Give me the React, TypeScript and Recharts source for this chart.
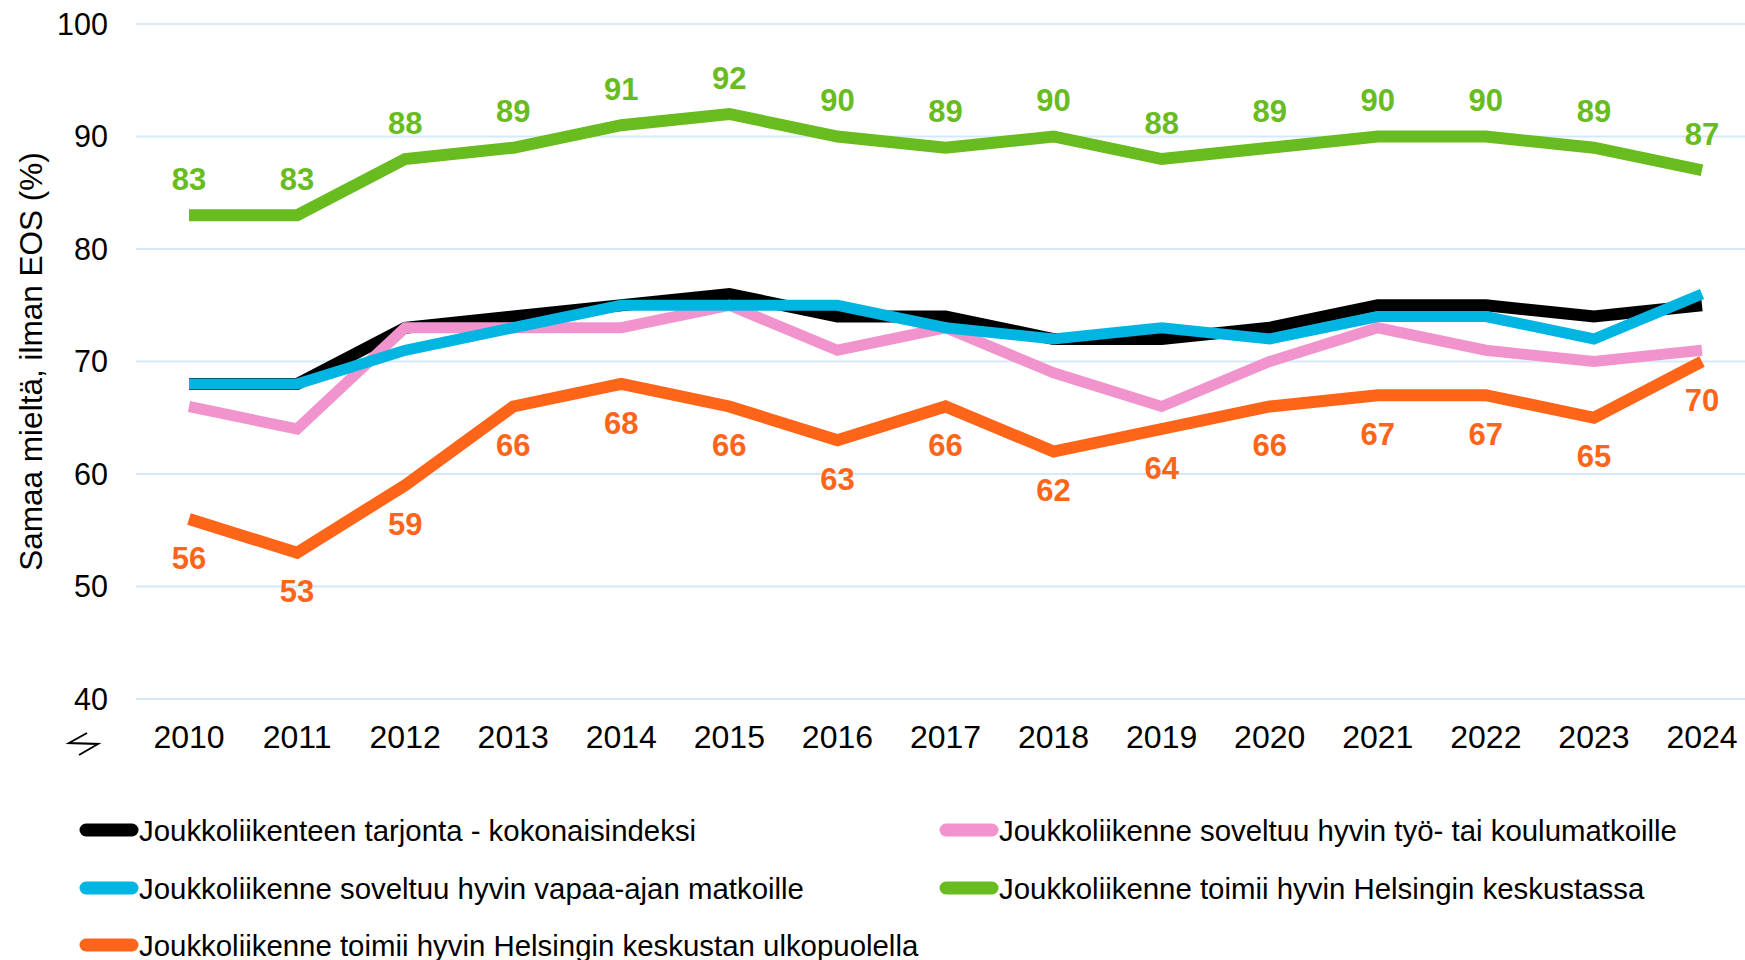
import { LineChart, Line, XAxis, YAxis, CartesianGrid } from 'recharts'

const years = ['2010', '2011', '2012', '2013', '2014', '2015', '2016', '2017', '2018', '2019', '2020', '2021', '2022', '2023', '2024']
const kokonais = [68, 68, 73, 74, 75, 76, 74, 74, 72, 72, 73, 75, 75, 74, 75]
const tyoKoulu = [66, 64, 73, 73, 73, 75, 71, 73, 69, 66, 70, 73, 71, 70, 71]
const vapaaAika = [68, 68, 71, 73, 75, 75, 75, 73, 72, 73, 72, 74, 74, 72, 76]
const keskusta = [83, 83, 88, 89, 91, 92, 90, 89, 90, 88, 89, 90, 90, 89, 87]
const ulkopuoli = [56, 53, 59, 66, 68, 66, 63, 66, 62, 64, 66, 67, 67, 65, 70]
const yTicks = [40, 50, 60, 70, 80, 90, 100]

const data = years.map((year, i) => ({
  year,
  kokonais: kokonais[i],
  tyoKoulu: tyoKoulu[i],
  vapaaAika: vapaaAika[i],
  keskusta: keskusta[i],
  ulkopuoli: ulkopuoli[i],
}))

const FONT = '"Liberation Sans", Arial, sans-serif'
const GREEN = '#68bc1f'
const ORANGE = '#ff6519'
const BLUE = '#00b5e2'
const PINK = '#f194cd'

const legend = [
  { name: 'Joukkoliikenteen tarjonta - kokonaisindeksi', color: '#000', x: 80, y: 830 },
  { name: 'Joukkoliikenne soveltuu hyvin työ- tai koulumatkoille', color: PINK, x: 940, y: 830 },
  { name: 'Joukkoliikenne soveltuu hyvin vapaa-ajan matkoille', color: BLUE, x: 80, y: 888 },
  { name: 'Joukkoliikenne toimii hyvin Helsingin keskustassa', color: GREEN, x: 940, y: 888 },
  { name: 'Joukkoliikenne toimii hyvin Helsingin keskustan ulkopuolella', color: ORANGE, x: 80, y: 945 },
]

const makeLabel = (color: string, dy: number) => (props: any) => {
  const { x, y, value, index } = props
  return (
    <text
      key={index}
      x={x}
      y={y + dy}
      textAnchor="middle"
      dominantBaseline="central"
      fill={color}
      fontSize={31}
      fontWeight="bold"
      fontFamily={FONT}
    >
      {value}
    </text>
  )
}

export default function App() {
  return (
    <div style={{ position: 'absolute', left: 0, top: 0, width: 1745, height: 960, background: '#fff', fontFamily: FONT }}>
      <LineChart
        width={1745}
        height={960}
        data={data}
        margin={{ top: 24, right: 0, left: 0, bottom: 201 }}
      >
        <CartesianGrid vertical={false} stroke="#d5e9f8" strokeWidth={2} />
        <XAxis
          dataKey="year"
          axisLine={false}
          tickLine={false}
          height={60}
          padding={{ left: 53, right: 43 }}
          tickMargin={20}
          interval={0}
          tick={{ fill: '#000', fontSize: 32, fontFamily: FONT }}
        />
        <YAxis
          domain={[40, 100]}
          ticks={yTicks}
          width={136}
          axisLine={false}
          tickLine={false}
          tickMargin={22}
          tick={{ fill: '#000', fontSize: 30.5, fontFamily: FONT }}
          label={{
            content: (p: any) => {
              const vb = p.viewBox || { y: 24, height: 675 }
              const cy = vb.y + vb.height / 2
              return (
                <text
                  x={31}
                  y={cy}
                  transform={`rotate(-90 31 ${cy})`}
                  textAnchor="middle"
                  dominantBaseline="central"
                  fontSize={31.5}
                  fontFamily={FONT}
                  fill="#000"
                >
                  Samaa mieltä, ilman EOS (%)
                </text>
              )
            },
          }}
        />
        <Line dataKey="kokonais" stroke="#000" strokeWidth={12} dot={false} strokeLinejoin="miter" isAnimationActive={false} />
        <Line dataKey="tyoKoulu" stroke={PINK} strokeWidth={11} dot={false} isAnimationActive={false} />
        <Line dataKey="vapaaAika" stroke={BLUE} strokeWidth={11} dot={false} isAnimationActive={false} />
        <Line dataKey="keskusta" stroke={GREEN} strokeWidth={12} dot={false} isAnimationActive={false} label={makeLabel(GREEN, -36)} />
        <Line dataKey="ulkopuoli" stroke={ORANGE} strokeWidth={12} dot={false} isAnimationActive={false} label={makeLabel(ORANGE, 39)} />
      </LineChart>
      <svg width={1745} height={960} style={{ position: 'absolute', left: 0, top: 0, pointerEvents: 'none' }}>
        <path d="M 87 733 L 69 743 L 98 744 L 79 755" fill="none" stroke="#000" strokeWidth={2} />
        {legend.map((l) => (
          <g key={l.name}>
            <line x1={86} x2={132} y1={l.y} y2={l.y} transform={`translate(${l.x - 80} 0)`} stroke={l.color} strokeWidth={13} strokeLinecap="round" />
            <text x={l.x + 59} y={l.y} dominantBaseline="central" fontSize={29.4} fontFamily={FONT} fill="#000">
              {l.name}
            </text>
          </g>
        ))}
      </svg>
    </div>
  )
}
